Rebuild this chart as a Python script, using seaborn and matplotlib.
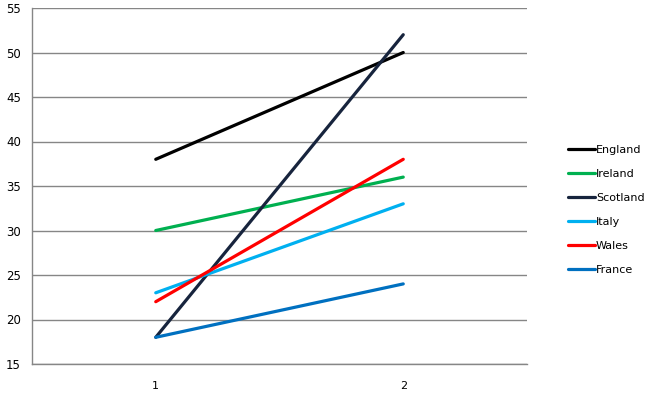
import matplotlib
matplotlib.use("Agg")
import matplotlib.pyplot as plt
import seaborn as sns
import pandas as pd
from matplotlib.ticker import FixedLocator

categories = [1, 2]
teams = ["England", "Ireland", "Scotland", "Italy", "Wales", "France"]
england = [38, 50]
ireland = [30, 36]
scotland = [18, 52]
italy = [23, 33]
wales = [22, 38]
france = [18, 24]
colors = ["#000000", "#00B050", "#17243D", "#00B0F0", "#FF0000", "#0070C0"]

series = [england, ireland, scotland, italy, wales, france]
rows = []
for t, vals in zip(teams, series):
    for c, v in zip(categories, vals):
        rows.append({"x": c, "y": v, "team": t})
df = pd.DataFrame(rows)

sns.set_style("white")
plt.rcParams['font.family'] = ['DejaVu Sans']

fig = plt.figure(figsize=(6.57, 3.94), dpi=100)
ax = fig.add_axes([32/657, 30/394, (527-32)/657, (364-8)/394])

sns.lineplot(data=df, x="x", y="y", hue="team", hue_order=teams,
             palette=dict(zip(teams, colors)), linewidth=2.3, ax=ax, legend=False)

ax.set_xlim(0.5, 2.5)
ax.set_ylim(15, 55)
ax.set_yticks(range(15, 56, 5))
ax.set_xticks(categories)
ax.set_xticklabels([str(c) for c in categories])
ax.xaxis.set_minor_locator(FixedLocator([0.5, 1.5, 2.5]))
ax.tick_params(axis="x", which="major", length=0, labelsize=8, pad=12, labelcolor="black")
ax.tick_params(axis="x", which="minor", length=5, color="#868686", width=1)
ax.tick_params(axis="y", length=5, color="#868686", width=1, labelsize=8.5, pad=3,
               labelcolor="black")
ax.set_xlabel("")
ax.set_ylabel("")
ax.grid(axis="y", color="#868686", linewidth=1)
ax.set_axisbelow(True)
for s in ["top", "right"]:
    ax.spines[s].set_visible(False)
for s in ["left", "bottom"]:
    ax.spines[s].set_color("#868686")
    ax.spines[s].set_linewidth(1)

handles = [plt.Line2D([0], [0], color=c, linewidth=2.3) for c in colors]
leg = fig.legend(handles, teams, loc="center left", bbox_to_anchor=(558/657, (394-210)/394),
                 frameon=False, fontsize=8, handlelength=2.4, handletextpad=0.1,
                 labelspacing=1.25)
for txt in leg.get_texts():
    txt.set_color("black")

fig.savefig("out.png", dpi=100)
